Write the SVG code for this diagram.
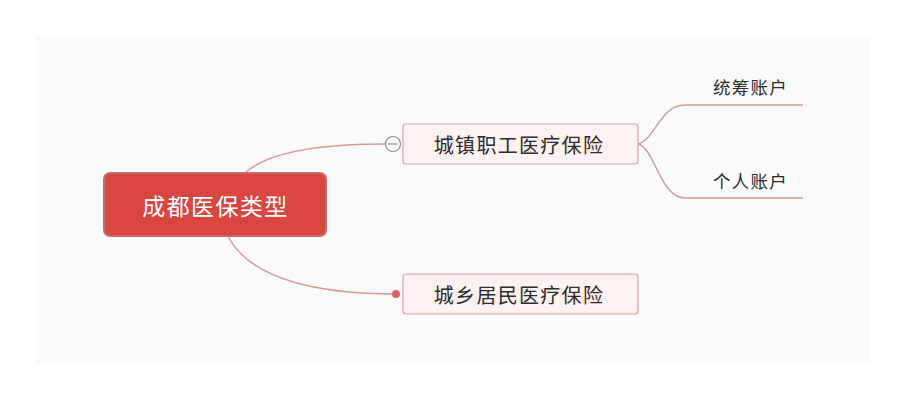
<svg xmlns="http://www.w3.org/2000/svg" width="906" height="400" viewBox="0 0 906 400">
<style>
.cn{fill:none;stroke:#d99a9c;stroke-width:1.5}
.sub{fill:#fdf1f1;stroke:#dba1a3;stroke-width:1.2}
.t{font-family:"Noto Sans CJK SC","Microsoft YaHei",sans-serif;text-anchor:middle;dominant-baseline:central}
.st{font-size:20px;letter-spacing:1.3px;fill:#2b2b2b}
.lf{font-size:17.5px;letter-spacing:1.3px;fill:#2b2b2b}
</style>
<rect x="36" y="37" width="834" height="326" fill="#fafafa"/>
<g id="connectors">
<path class="cn" d="M245,173 C270,150 330,144 385,144"/>
<path class="cn" d="M228,236 C250,280 320,294 396,294"/>
<path class="cn" d="M638,144 C655,140 660,105 685,105 L803,105"/>
<path class="cn" d="M638,144 C655,148 660,198 685,198 L803,198"/>
</g>
<g id="root">
<rect x="104" y="173" width="222" height="63" rx="6" fill="#d8463f" stroke="#c96a6d" stroke-width="2"/>
<text class="t" x="215.5" y="205" font-size="23" letter-spacing="1.4" fill="#fff">成都医保类型</text>
</g>
<g id="n1">
<circle cx="393" cy="144" r="7.5" fill="#fff" stroke="#8a8a8a" stroke-width="1.2"/>
<line x1="388.5" y1="144" x2="397.5" y2="144" stroke="#8a8a8a" stroke-width="1.2"/>
<rect class="sub" x="403" y="124" width="235" height="40" rx="3"/>
<text class="t st" x="519" y="144">城镇职工医疗保险</text>
</g>
<g id="n2">
<circle cx="396" cy="294" r="4" fill="#d8636a"/>
<rect class="sub" x="403" y="274" width="235" height="40" rx="3"/>
<text class="t st" x="519" y="294">城乡居民医疗保险</text>
</g>
<g id="n3">
<text class="t lf" x="750.5" y="86">统筹账户</text>
</g>
<g id="n4">
<text class="t lf" x="750.5" y="180">个人账户</text>
</g>
</svg>
